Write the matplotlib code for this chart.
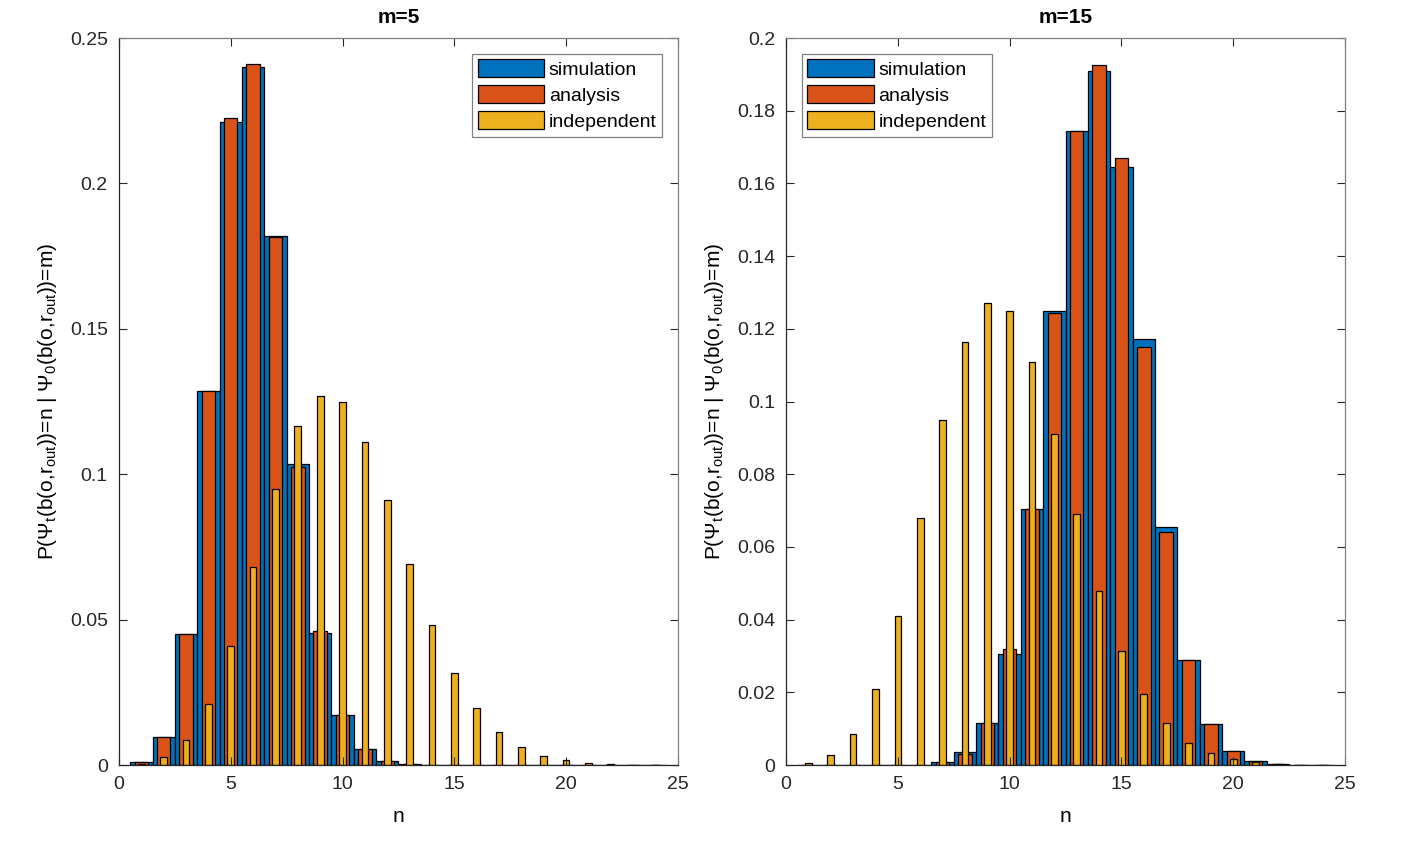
import matplotlib
matplotlib.use('Agg')
from matplotlib import pyplot as plt
import numpy as np

plt.rcParams['font.family'] = ['Liberation Sans', 'DejaVu Sans']
plt.rcParams['mathtext.default'] = 'regular'

n = np.arange(1, 25)

# m=5
sim_m5 = [0.001, 0.0095, 0.045, 0.1285, 0.221, 0.240, 0.182, 0.1035, 0.0455, 0.0172,
          0.0055, 0.0015, 0.0003, 0.0001, 0, 0, 0, 0, 0, 0, 0, 0, 0, 0]
ana_m5 = [0.001, 0.0095, 0.045, 0.1285, 0.2225, 0.2412, 0.1815, 0.1025, 0.046, 0.0173,
          0.0055, 0.0014, 0.0003, 0.0001, 0, 0, 0, 0, 0, 0, 0, 0, 0, 0]

# m=15
sim_m15 = [0, 0, 0, 0, 0, 0.0001, 0.0008, 0.0035, 0.0115, 0.0305, 0.0705, 0.125,
           0.1745, 0.191, 0.1645, 0.1172, 0.0655, 0.029, 0.0113, 0.0038, 0.001, 0.0003,
           0.0001, 0]
ana_m15 = [0, 0, 0, 0, 0, 0.0001, 0.0008, 0.003, 0.0115, 0.0318, 0.0705, 0.1245,
           0.1745, 0.1925, 0.167, 0.115, 0.064, 0.029, 0.0113, 0.0038, 0.001, 0.0003,
           0.0001, 0]

# independent case (same in both panels)
indep = [0.0005, 0.0027, 0.0085, 0.021, 0.041, 0.068, 0.095, 0.1165, 0.127, 0.125,
         0.111, 0.091, 0.069, 0.048, 0.0315, 0.0195, 0.0115, 0.0062, 0.0032, 0.0016,
         0.0007, 0.0003, 0.0001, 0.00005]

labels = ['simulation', 'analysis', 'independent']
colors = ['#0072BD', '#D95319', '#EDB120']

fig = plt.figure(figsize=(14.23, 8.46), dpi=100)
ax1 = fig.add_axes([0.0836, 0.0957, 0.3928, 0.8593])
ax2 = fig.add_axes([0.5524, 0.0957, 0.3928, 0.8593])


def draw(ax, sim, ana, title, ymax, yticks, loc):
    ax.bar(n, sim, width=1.0, color=colors[0], edgecolor='black', linewidth=0.9, label=labels[0])
    ax.bar(n, ana, width=0.6, color=colors[1], edgecolor='black', linewidth=0.9, label=labels[1])
    ax.bar(n, indep, width=0.3, color=colors[2], edgecolor='black', linewidth=0.9, label=labels[2])
    ax.set_xlim(0, 25)
    ax.set_ylim(0, ymax)
    ax.set_xticks([0, 5, 10, 15, 20, 25])
    ax.set_yticks(yticks)
    ax.set_yticklabels([('%g' % t) for t in yticks])
    ax.tick_params(direction='in', length=6, width=0.8, top=True, right=True,
                   labelsize=14, colors='#262626', pad=8)
    for s in ['left', 'bottom']:
        ax.spines[s].set_color('#262626')
    for s in ['top', 'right']:
        ax.spines[s].set_color('#808080')
    for s in ax.spines.values():
        s.set_linewidth(0.9)
    ax.set_title(title, fontsize=15, fontweight='bold', pad=11)
    ax.set_xlabel('n', fontsize=15, labelpad=10)
    ax.set_ylabel('P(Ψ$_t$(b(o,r$_{out}$))=n | Ψ$_0$(b(o,r$_{out}$))=m)', fontsize=15, labelpad=8)
    leg = ax.legend(loc=loc, fontsize=14, handlelength=3.4, handleheight=1.05,
                    handletextpad=0.25, labelspacing=0.32, borderpad=0.3,
                    fancybox=False, framealpha=1, edgecolor='#808080', borderaxespad=0.8)
    leg.get_frame().set_linewidth(0.9)


draw(ax1, sim_m5, ana_m5, 'm=5', 0.25, [0, 0.05, 0.1, 0.15, 0.2, 0.25], 'upper right')
draw(ax2, sim_m15, ana_m15, 'm=15', 0.2, [0, 0.02, 0.04, 0.06, 0.08, 0.1, 0.12, 0.14, 0.16, 0.18, 0.2], 'upper left')

fig.savefig('out.png', dpi=100)
